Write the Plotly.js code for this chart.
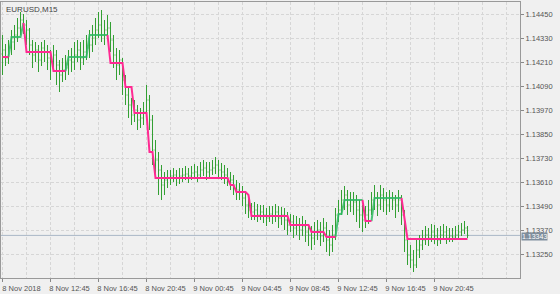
<!DOCTYPE html>
<html><head><meta charset="utf-8">
<script src="https://cdn.plot.ly/plotly-3.0.1.min.js"></script>
<style>html,body{margin:0;padding:0;background:#f0f0f0;}#chart{width:560px;height:294px;}</style>
</head><body><div id="chart"></div>
<script>
const symbolTitle = 'EURUSD,M15';
const firstBar = Date.UTC(2018, 10, 8, 8, 45);
const opens = [1.14250,1.14270,1.14230,1.14280,1.14310,1.14345,1.14380,1.14420,1.14395,1.14370,
1.14295,1.14245,1.14270,1.14220,1.14280,1.14260,1.14230,1.14210,1.14245,1.14195,
1.14145,1.14170,1.14180,1.14220,1.14210,1.14245,1.14270,1.14230,1.14260,1.14280,
1.14295,1.14330,1.14370,1.14395,1.14345,1.14370,1.14380,1.14320,1.14245,1.14195,
1.14220,1.14120,1.14045,1.13995,1.13945,1.13970,1.13920,1.13930,1.13960,1.14020,
1.13920,1.13770,1.13720,1.13670,1.13595,1.13620,1.13630,1.13640,1.13645,1.13630,
1.13640,1.13645,1.13650,1.13640,1.13655,1.13660,1.13645,1.13670,1.13680,1.13660,
1.13670,1.13680,1.13695,1.13670,1.13660,1.13645,1.13630,1.13620,1.13595,1.13570,
1.13560,1.13530,1.13495,1.13470,1.13460,1.13470,1.13445,1.13460,1.13445,1.13430,
1.13450,1.13440,1.13460,1.13430,1.13445,1.13420,1.13395,1.13410,1.13380,1.13395,
1.13370,1.13390,1.13360,1.13345,1.13330,1.13360,1.13370,1.13340,1.13380,1.13320,
1.13295,1.13345,1.13445,1.13470,1.13520,1.13545,1.13495,1.13520,1.13510,1.13470,
1.13445,1.13420,1.13445,1.13470,1.13520,1.13530,1.13495,1.13545,1.13520,1.13495,
1.13530,1.13520,1.13495,1.13520,1.13445,1.13320,1.13245,1.13220,1.13195,1.13270,
1.13295,1.13320,1.13345,1.13330,1.13360,1.13340,1.13320,1.13345,1.13360,1.13330,
1.13340,1.13335,1.13345,1.13360,1.13370,1.13380];
const highs = [1.14345,1.14300,1.14320,1.14370,1.14395,1.14430,1.14460,1.14450,1.14420,1.14380,
1.14320,1.14310,1.14295,1.14310,1.14320,1.14295,1.14270,1.14295,1.14270,1.14220,
1.14230,1.14245,1.14270,1.14280,1.14310,1.14320,1.14310,1.14320,1.14345,1.14370,
1.14395,1.14430,1.14460,1.14470,1.14420,1.14445,1.14410,1.14345,1.14280,1.14270,
1.14230,1.14145,1.14080,1.14030,1.14020,1.13995,1.13980,1.14010,1.14095,1.14045,
1.13945,1.13820,1.13760,1.13695,1.13660,1.13670,1.13670,1.13680,1.13670,1.13680,
1.13680,1.13690,1.13680,1.13690,1.13700,1.13690,1.13710,1.13720,1.13710,1.13710,
1.13720,1.13735,1.13720,1.13705,1.13695,1.13680,1.13660,1.13645,1.13620,1.13605,
1.13590,1.13560,1.13530,1.13505,1.13510,1.13500,1.13495,1.13495,1.13480,1.13490,
1.13490,1.13500,1.13490,1.13485,1.13480,1.13460,1.13450,1.13445,1.13440,1.13430,
1.13440,1.13420,1.13400,1.13390,1.13410,1.13420,1.13410,1.13430,1.13410,1.13370,
1.13395,1.13480,1.13520,1.13570,1.13590,1.13570,1.13560,1.13560,1.13545,1.13520,
1.13495,1.13490,1.13520,1.13560,1.13595,1.13560,1.13595,1.13580,1.13560,1.13570,
1.13560,1.13545,1.13570,1.13545,1.13470,1.13345,1.13295,1.13270,1.13320,1.13345,
1.13370,1.13390,1.13380,1.13400,1.13395,1.13380,1.13390,1.13400,1.13390,1.13380,
1.13380,1.13390,1.13395,1.13405,1.13415,1.13390];
const lows = [1.14145,1.14190,1.14200,1.14245,1.14270,1.14310,1.14345,1.14350,1.14295,1.14245,
1.14180,1.14210,1.14160,1.14190,1.14210,1.14170,1.14120,1.14160,1.14095,1.14060,
1.14110,1.14120,1.14145,1.14160,1.14170,1.14210,1.14170,1.14195,1.14220,1.14230,
1.14260,1.14295,1.14330,1.14310,1.14295,1.14320,1.14260,1.14180,1.14120,1.14145,
1.14045,1.13995,1.13930,1.13895,1.13910,1.13870,1.13880,1.13895,1.13930,1.13870,
1.13695,1.13645,1.13545,1.13520,1.13545,1.13580,1.13595,1.13610,1.13590,1.13600,
1.13610,1.13620,1.13605,1.13620,1.13630,1.13610,1.13630,1.13640,1.13620,1.13630,
1.13645,1.13650,1.13630,1.13620,1.13600,1.13590,1.13570,1.13545,1.13520,1.13520,
1.13490,1.13450,1.13430,1.13420,1.13420,1.13410,1.13420,1.13405,1.13390,1.13410,
1.13400,1.13410,1.13380,1.13395,1.13370,1.13345,1.13360,1.13330,1.13345,1.13320,
1.13340,1.13310,1.13290,1.13270,1.13295,1.13320,1.13290,1.13310,1.13260,1.13240,
1.13260,1.13320,1.13410,1.13445,1.13470,1.13445,1.13460,1.13445,1.13410,1.13380,
1.13360,1.13380,1.13400,1.13445,1.13470,1.13440,1.13470,1.13460,1.13445,1.13460,
1.13470,1.13430,1.13460,1.13395,1.13260,1.13195,1.13180,1.13160,1.13180,1.13230,
1.13270,1.13295,1.13290,1.13310,1.13300,1.13290,1.13300,1.13320,1.13300,1.13310,
1.13310,1.13320,1.13330,1.13340,1.13350,1.13330];
const closes = [1.14270,1.14230,1.14280,1.14310,1.14345,1.14380,1.14420,1.14395,1.14370,1.14295,
1.14245,1.14270,1.14220,1.14280,1.14260,1.14230,1.14210,1.14245,1.14195,1.14145,
1.14170,1.14180,1.14220,1.14210,1.14245,1.14270,1.14230,1.14260,1.14280,1.14295,
1.14330,1.14370,1.14395,1.14345,1.14370,1.14380,1.14320,1.14245,1.14195,1.14220,
1.14120,1.14045,1.13995,1.13945,1.13970,1.13920,1.13930,1.13960,1.14020,1.13920,
1.13770,1.13720,1.13670,1.13595,1.13620,1.13630,1.13640,1.13645,1.13630,1.13640,
1.13645,1.13650,1.13640,1.13655,1.13660,1.13645,1.13670,1.13680,1.13660,1.13670,
1.13680,1.13695,1.13670,1.13660,1.13645,1.13630,1.13620,1.13595,1.13570,1.13560,
1.13530,1.13495,1.13470,1.13460,1.13470,1.13445,1.13460,1.13445,1.13430,1.13450,
1.13440,1.13460,1.13430,1.13445,1.13420,1.13395,1.13410,1.13380,1.13395,1.13370,
1.13390,1.13360,1.13345,1.13330,1.13360,1.13370,1.13340,1.13380,1.13320,1.13295,
1.13345,1.13445,1.13470,1.13520,1.13545,1.13495,1.13520,1.13510,1.13470,1.13445,
1.13420,1.13445,1.13470,1.13520,1.13530,1.13495,1.13545,1.13520,1.13495,1.13530,
1.13520,1.13495,1.13520,1.13445,1.13320,1.13245,1.13220,1.13195,1.13270,1.13295,
1.13320,1.13345,1.13330,1.13360,1.13340,1.13320,1.13345,1.13360,1.13330,1.13340,
1.13335,1.13345,1.13360,1.13370,1.13380,1.13343];
const stepLevels = [1.14235,1.14235,1.14235,1.14335,1.14335,1.14335,1.14335,1.14405,1.14260,1.14260,
1.14260,1.14260,1.14260,1.14260,1.14260,1.14260,1.14260,1.14165,1.14165,1.14165,
1.14165,1.14165,1.14235,1.14235,1.14235,1.14235,1.14235,1.14235,1.14235,1.14345,
1.14345,1.14345,1.14345,1.14345,1.14345,1.14345,1.14205,1.14205,1.14205,1.14205,
1.14205,1.14085,1.14085,1.14085,1.13955,1.13955,1.13955,1.13955,1.13955,1.13760,
1.13760,1.13630,1.13630,1.13630,1.13630,1.13630,1.13630,1.13630,1.13630,1.13630,
1.13630,1.13630,1.13630,1.13630,1.13630,1.13630,1.13630,1.13630,1.13630,1.13630,
1.13630,1.13630,1.13630,1.13630,1.13630,1.13630,1.13595,1.13595,1.13560,1.13560,
1.13560,1.13560,1.13545,1.13440,1.13440,1.13440,1.13440,1.13440,1.13440,1.13440,
1.13440,1.13440,1.13440,1.13440,1.13440,1.13440,1.13395,1.13395,1.13395,1.13395,
1.13395,1.13395,1.13395,1.13360,1.13360,1.13360,1.13360,1.13360,1.13335,1.13335,
1.13335,1.13335,1.13450,1.13450,1.13520,1.13520,1.13520,1.13520,1.13520,1.13520,
1.13520,1.13415,1.13415,1.13415,1.13530,1.13530,1.13530,1.13530,1.13530,1.13530,
1.13530,1.13530,1.13530,1.13530,1.13420,1.13325,1.13325,1.13325,1.13325,1.13325,
1.13325,1.13325,1.13325,1.13325,1.13325,1.13325,1.13325,1.13325,1.13325,1.13325,
1.13325,1.13325,1.13325,1.13325,1.13325,1.13325];
const stepTrend = 'DDDUUUUUDDDDDDDDDDDDDDUUUUUUUUUUUUUUDDDDDDDDDDDDDDDDDDDDDDDDDDDDDDDDDDDDDDDDDDDDDDDDDDDDDDDDDDDDDDDDDDDDDDDDDDDDUUUUUUUUUDDDUUUUUUUUUUDDDDDDDDDDDDDDDDDDDDDDD';
const priceTicks = [1.13250,1.13370,1.13490,1.13610,1.13730,1.13850,1.13970,1.14090,1.14210,1.14330,1.14450];
const timeTicks = ['2018-11-08 08:45','2018-11-08 12:45','2018-11-08 16:45','2018-11-08 20:45','2018-11-09 00:45','2018-11-09 04:45','2018-11-09 08:45','2018-11-09 12:45','2018-11-09 16:45','2018-11-09 20:45'];
const timeLabels = ['8 Nov 2018','8 Nov 12:45','8 Nov 16:45','8 Nov 20:45','9 Nov 00:45','9 Nov 04:45','9 Nov 08:45','9 Nov 12:45','9 Nov 16:45','9 Nov 20:45'];
const lastPrice = 1.13343;

const times = closes.map((_, i) => new Date(firstBar + i*900000).toISOString().slice(0,16).replace('T',' '));
const upY = [], dnY = [];
for (let i = 0; i < stepLevels.length; i++) {
  const t = stepTrend[i], nt = stepTrend[i+1];
  upY.push(t === 'U' || nt === 'U' ? stepLevels[i] : null);
  dnY.push(t === 'D' || nt === 'D' ? stepLevels[i] : null);
}
const G = '#33a033';
const data = [
  {type:'ohlc', x:times, open:opens, high:highs, low:lows, close:closes, tickwidth:0.3,
   increasing:{line:{color:G,width:1}}, decreasing:{line:{color:G,width:1}}, hoverinfo:'skip', showlegend:false},
  {type:'scatter', mode:'lines', x:times, y:upY, line:{color:'rgba(46,184,98,0.85)', width:2}, hoverinfo:'skip', showlegend:false},
  {type:'scatter', mode:'lines', x:times, y:dnY, line:{color:'#ff2a92', width:2}, hoverinfo:'skip', showlegend:false}
];
const layout = {
  width:560, height:294, margin:{l:1,r:40,t:2,b:16},
  paper_bgcolor:'#f0f0f0', plot_bgcolor:'#f0f0f0', showlegend:false,
  font:{family:'Liberation Sans, Arial, sans-serif', size:7.5, color:'#555'},
  xaxis:{type:'date', range:['2018-11-08 08:37:30','2018-11-10 03:52:30'], rangeslider:{visible:false},
    tickvals:timeTicks, ticktext:timeLabels, ticks:'outside', ticklen:3, tickcolor:'#888', ticklabelshift:19,
    showgrid:true, gridcolor:'#d6d6d6', griddash:'3px,2px',
    minor:{dtick:7200000, tick0:'2018-11-08 08:45', showgrid:true, gridcolor:'#d6d6d6', griddash:'3px,2px', ticks:''},
    showline:true, linecolor:'#999', mirror:true, zeroline:false, fixedrange:true},
  yaxis:{side:'right', range:[1.13130,1.14510], tickvals:priceTicks, ticktext:priceTicks.map(v=>v.toFixed(5)),
    ticks:'outside', ticklen:3, tickcolor:'#888', showgrid:true, gridcolor:'#d6d6d6', griddash:'3px,2px',
    showline:true, linecolor:'#999', mirror:true, zeroline:false, fixedrange:true},
  shapes:[{type:'line', xref:'paper', x0:0, x1:1, yref:'y', y0:lastPrice, y1:lastPrice, line:{color:'#a9b7c6', width:1}, layer:'below'}],
  annotations:[
    {xref:'paper', yref:'paper', x:0, y:1, xanchor:'left', yanchor:'top', xshift:3, yshift:-1, text:symbolTitle, showarrow:false, font:{size:8, color:'#444'}},
    {xref:'paper', yref:'y', x:1, y:lastPrice, xanchor:'left', yanchor:'middle', xshift:1, yshift:-1, text:lastPrice.toFixed(5), showarrow:false, bgcolor:'#7f8e9d', font:{size:7, color:'#fff'}, borderpad:0}
  ]
};
Plotly.newPlot('chart', data, layout, {staticPlot:true});
</script></body></html>
